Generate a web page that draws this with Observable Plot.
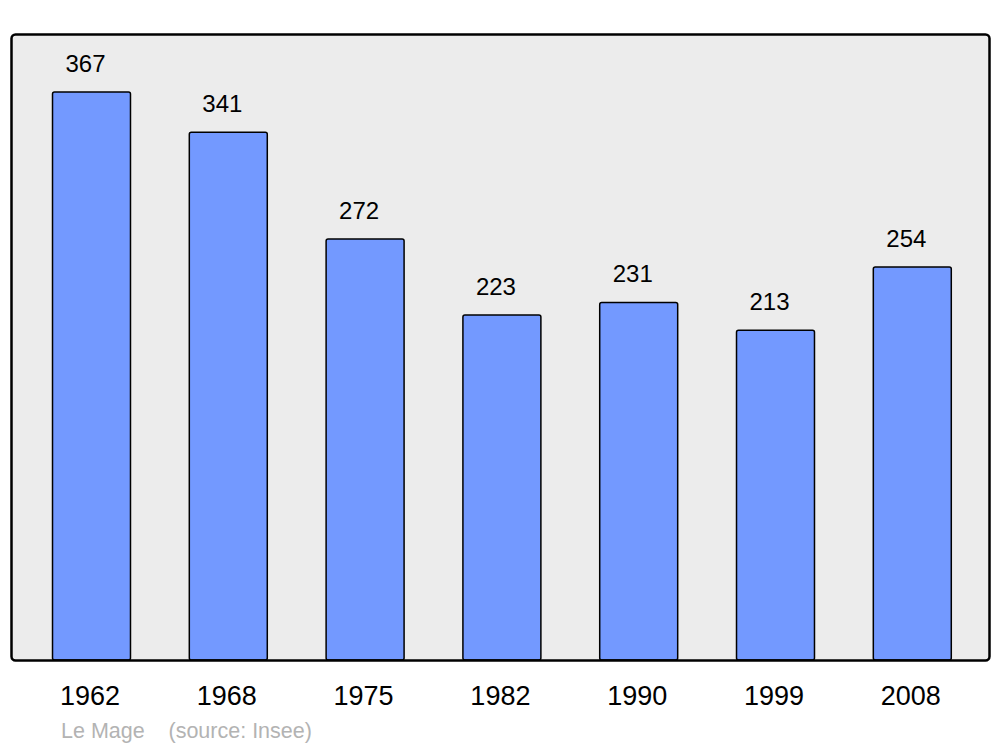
<!DOCTYPE html>
<html>
<head>
<meta charset="utf-8">
<script src="https://cdn.jsdelivr.net/npm/d3@7"></script>
<script src="https://cdn.jsdelivr.net/npm/@observablehq/plot@0.6"></script>
<style>
  html, body { margin: 0; padding: 0; background: #ffffff; }
  #chart svg { display: block; }
  #caption {
    position: relative;
    height: 28px;
    font-family: "Liberation Sans", Arial, sans-serif;
    font-size: 21.5px;
    line-height: 24px;
    color: #b3b3b3;
    white-space: pre;
  }
  #caption span { position: absolute; top: 0; }
</style>
</head>
<body>
<div id="chart"></div>
<div id="caption"><span style="left:61px">Le Mage</span><span style="left:168.5px">(source: Insee)</span></div>
<script>
const years = ["1962", "1968", "1975", "1982", "1990", "1999", "2008"];
const population = [367, 341, 272, 223, 231, 213, 254];

const data = years.map((y, i) => ({year: y, pop: population[i]}));

const plot = Plot.plot({
  width: 1000,
  height: 719,
  marginTop: 34,
  marginBottom: 59,
  marginLeft: 11,
  marginRight: 11,
  style: {fontFamily: "'Liberation Sans', Arial, sans-serif", background: "#ffffff", color: "black"},
  x: {domain: years, range: [23.1, 980.7], paddingInner: 0.43, paddingOuter: 0.215, round: false, label: null},
  y: {domain: [0, 404.5], axis: null, label: null},
  marks: [
    Plot.frame({fill: "#ececec", stroke: null, rx: 4}),
    Plot.barY(data, {x: "year", y: "pop", fill: "#7399ff", stroke: "black", strokeWidth: 1.5, rx: 2}),
    Plot.text(data, {x: "year", y: "pop", text: d => String(d.pop), lineAnchor: "bottom", dy: -20.7, dx: -6.5, fontSize: 24, fill: "black"}),
    Plot.frame({stroke: "black", strokeWidth: 2.5, rx: 4}),
    Plot.axisX({tickSize: 0, tickPadding: 25, fontSize: 27, dx: -2, fill: "black", label: null})
  ]
});
document.getElementById("chart").appendChild(plot);
</script>
</body>
</html>
